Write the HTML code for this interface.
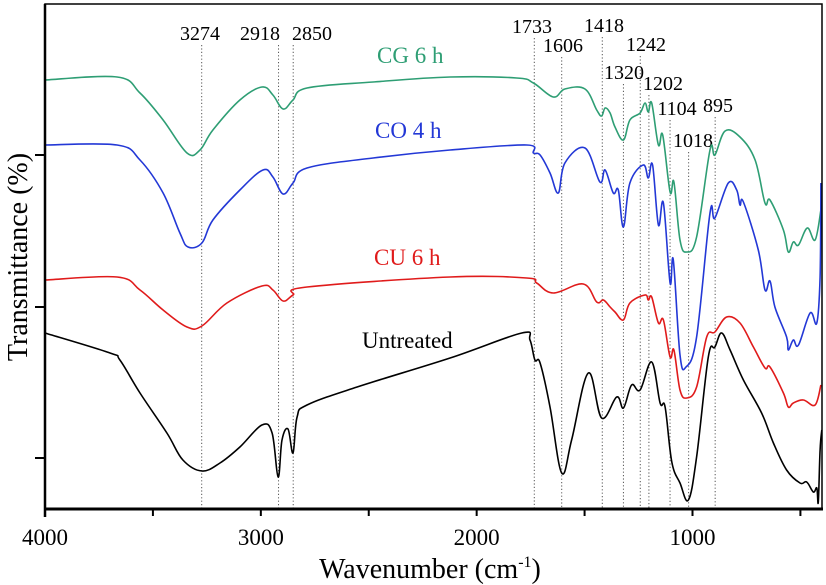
<!DOCTYPE html>
<html><head><meta charset="utf-8"><style>
body{margin:0;background:#fff;}
svg{display:block;font-family:"Liberation Serif",serif;}
</style></head><body>
<svg id="chart" width="826" height="585" viewBox="0 0 826 585">
<g id="annot"></g>
<g id="series"></g>
<g id="axes"></g>
</svg>
<script>
// wavenumber (cm-1) and relative transmittance (arbitrary units) pairs
const cgWave = [4000,3666,3560,3453,3342,3282,3222,3097,2995,2944,2897,2851,2786,2480,2123,1815,1737,1645,1591,1498,1444,1421,1405,1382,1359,1320,1290,1243,1220,1205,1189,1158,1138,1104,1086,1058,1027,981,919,896,849,780,710,664,641,579,556,533,509,468,432,405];
const cgVal  = [429,432,416,389,356,359,379,409,422,414,400,409,421,427,432,431,426,412,420,420,399,393,401,396,382,369,389,396,406,397,406,364,374,317,327,269,257,272,359,354,378,372,349,306,309,279,257,267,264,281,269,299];
const coWave = [4000,3666,3560,3453,3375,3337,3273,3222,3097,2990,2944,2897,2851,2786,2480,2123,1768,1737,1706,1660,1622,1591,1498,1429,1405,1367,1344,1320,1290,1228,1205,1185,1158,1135,1104,1089,1058,1030,981,919,896,834,795,780,764,695,664,641,618,564,556,533,509,455,424,409,405];
const coVal  = [364,364,349,316,276,262,266,289,319,339,332,315,326,341,351,359,364,356,354,336,316,346,361,327,339,316,319,282,326,344,331,344,284,306,226,249,154,142,172,296,291,326,319,304,307,259,219,228,202,172,159,169,164,196,186,232,326];
const cuWave = [4000,3666,3560,3453,3342,3273,3157,2995,2944,2897,2851,2786,2123,1768,1722,1645,1506,1444,1413,1382,1359,1320,1290,1220,1205,1189,1158,1135,1104,1086,1058,1027,981,934,896,842,780,718,664,641,579,556,533,486,432,405];
const cuVal  = [229,232,219,199,182,183,206,223,219,208,214,222,232,231,226,216,225,207,209,202,197,189,206,214,209,212,186,189,152,159,119,111,122,172,177,192,186,162,141,142,116,102,106,109,104,124];
const unWave = [4000,3699,3653,3560,3435,3361,3273,3189,3097,2995,2948,2920,2902,2874,2851,2832,2786,2554,2123,1791,1753,1730,1706,1660,1606,1560,1483,1421,1351,1320,1282,1243,1189,1150,1127,1096,1058,1019,981,927,896,865,826,764,680,625,564,502,471,440,424,417,409,401];
const unVal  = [176,156,149,116,76,49,38,46,62,84,76,32,69,80,56,92,104,122,151,176,169,149,146,102,36,69,136,91,112,101,124,119,147,106,102,47,26,9,52,152,162,176,159,129,96,66,39,26,27,17,21,7,59,79];
const seriesNames = ["CG 6 h","CO 4 h","CU 6 h","Untreated"];
const peakLabels = [3274,2918,2850,1733,1606,1418,1320,1242,1202,1104,1018,895];
const xTicks = [4000,3000,2000,1000];
const xMinor = [3500,2500,1500,500];

const L=45,R=822,T=4,B=509;
const X=w=>L+(4000-w)/(4000-400)*(R-L);
const Y=v=>B-v;
const NS="http://www.w3.org/2000/svg";
function mk(tag,attrs,parent){const e=document.createElementNS(NS,tag);for(const k in attrs)e.setAttribute(k,attrs[k]);parent.appendChild(e);return e;}
const ann=document.getElementById('annot'),ser=document.getElementById('series'),ax=document.getElementById('axes');

const labPos={3274:[200,33,45],2918:[260,33,45],2850:[312,33,45],1733:[532,26,38],1606:[563,45,57],1418:[604,25,37],1242:[646,44,56],1320:[624,72,84],1202:[663,83,95],1104:[677,108,120],1018:[693,140,152],895:[718,105,117]};
peakLabels.forEach(p=>{
  const lp=labPos[p]||[X(p),30,42];
  const ln=mk('line',{x1:X(p),x2:X(p),y1:lp[2],y2:B,stroke:'#555','stroke-width':1,'stroke-dasharray':'1.2,2.2'},ann);
  
  
  const t=mk('text',{x:lp[0],y:lp[1]+7,'text-anchor':'middle','font-size':20,fill:'#000'},ann);
  t.textContent=p;
  
  
});

function smoothPath(p){
  let d='M'+p[0][0].toFixed(1)+','+p[0][1].toFixed(1);
  for(let i=0;i<p.length-1;i++){
    const p0=p[Math.max(0,i-1)],p1=p[i],p2=p[i+1],p3=p[Math.min(p.length-1,i+2)];
    const k=0.18;
    const c1=[p1[0]+(p2[0]-p0[0])*k,p1[1]+(p2[1]-p0[1])*k];
    const c2=[p2[0]-(p3[0]-p1[0])*k,p2[1]-(p3[1]-p1[1])*k];
    d+=' C'+c1[0].toFixed(1)+','+c1[1].toFixed(1)+' '+c2[0].toFixed(1)+','+c2[1].toFixed(1)+' '+p2[0].toFixed(1)+','+p2[1].toFixed(1);
  }
  return d;
}
const defs=[[cgWave,cgVal,'#2e9e74'],[coWave,coVal,'#2338d6'],[cuWave,cuVal,'#e01b1b'],[unWave,unVal,'#000']];
defs.forEach((d,i)=>{
  const pts=d[0].map((w,j)=>[X(w),Y(d[1][j])]);
  const pl=mk('path',{d:smoothPath(pts),fill:'none',stroke:d[2],'stroke-width':1.6,'stroke-linejoin':'round'},ser);
  
  
});
const sl=[[377,63,'#2e9e74'],[375,138,'#2338d6'],[374,265,'#e01b1b'],[362,348,'#000']];
seriesNames.forEach((n,i)=>{
  const t=mk('text',{x:sl[i][0],y:sl[i][1],'font-size':23,fill:sl[i][2]},ser);
  t.textContent=n;
  
  
});

const fr=mk('rect',{x:L,y:T,width:R-L,height:B-T,fill:'none',stroke:'#000','stroke-width':1.5},ax);


const xb=mk('line',{x1:L-1,x2:R+1,y1:B,y2:B,stroke:'#000','stroke-width':3},ax);


const yb=mk('line',{x1:L,x2:L,y1:T,y2:B+8,stroke:'#000','stroke-width':2.5},ax);


xTicks.concat(xMinor).forEach(w=>{
  const tk=mk('line',{x1:X(w),x2:X(w),y1:B,y2:B+7,stroke:'#000','stroke-width':2},ax);
  
  
});
xTicks.forEach(w=>{
  const t=mk('text',{x:X(w),y:545,'text-anchor':'middle','font-size':23},ax);
  t.textContent=w;
  
  
});
[155,307,458].forEach((y,i)=>{
  const tk=mk('line',{x1:L-10,x2:L,y1:y,y2:y,stroke:'#000','stroke-width':2},ax);
  
  
});
const xt=mk('text',{x:430,y:578,'text-anchor':'middle','font-size':28},ax);
xt.innerHTML='Wavenumber (cm<tspan dy="-11" font-size="16">-1</tspan><tspan dy="11">)</tspan>';


const yt=mk('text',{x:0,y:0,'text-anchor':'middle','font-size':28,transform:'translate(27,257) rotate(-90)'},ax);
yt.textContent='Transmittance (%)';


</script>
</body></html>
